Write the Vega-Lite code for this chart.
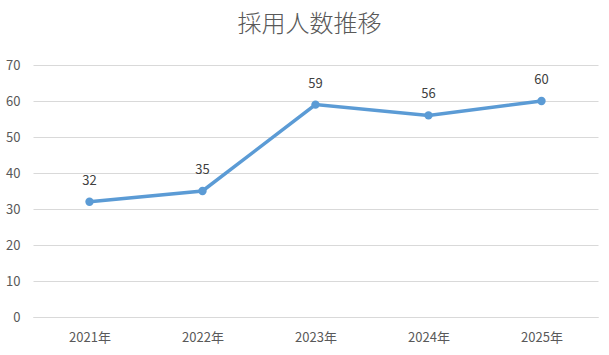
{
  "$schema": "https://vega.github.io/schema/vega-lite/v6.json",
  "width": 565,
  "height": 252,
  "autosize": {"type": "none"},
  "padding": {"left": 33, "top": 65, "right": 11, "bottom": 38},
  "background": "white",
  "title": {
    "text": "採用人数推移",
    "font": "Noto Sans CJK JP",
    "fontSize": 24,
    "fontWeight": 300,
    "color": "#595959",
    "anchor": "middle",
    "dx": -6,
    "offset": 22
  },
  "data": {
    "values": [
      {"year": "2021年", "count": 32},
      {"year": "2022年", "count": 35},
      {"year": "2023年", "count": 59},
      {"year": "2024年", "count": 56},
      {"year": "2025年", "count": 60}
    ]
  },
  "config": {
    "view": {"stroke": null},
    "axis": {
      "labelFont": "Noto Sans CJK JP",
      "labelFontSize": 13,
      "labelColor": "#595959",
      "ticks": false,
      "title": null
    }
  },
  "encoding": {
    "x": {
      "field": "year",
      "type": "ordinal",
      "scale": {"type": "point", "padding": 0.5},
      "axis": {"labelAngle": 0, "domain": true, "domainColor": "#D9D9D9", "labelPadding": 14, "grid": false}
    },
    "y": {
      "field": "count",
      "type": "quantitative",
      "scale": {"domain": [0, 70]},
      "axis": {"values": [0, 10, 20, 30, 40, 50, 60, 70], "domain": false, "grid": true, "gridColor": "#D9D9D9", "labelPadding": 13}
    }
  },
  "layer": [
    {
      "mark": {"type": "line", "color": "#5B9BD5", "strokeWidth": 3.5, "point": {"filled": true, "size": 70, "color": "#5B9BD5"}}
    },
    {
      "mark": {"type": "text", "dy": -21, "font": "Noto Sans CJK JP", "fontSize": 13, "color": "#404040"},
      "encoding": {"text": {"field": "count", "type": "quantitative"}}
    }
  ]
}
